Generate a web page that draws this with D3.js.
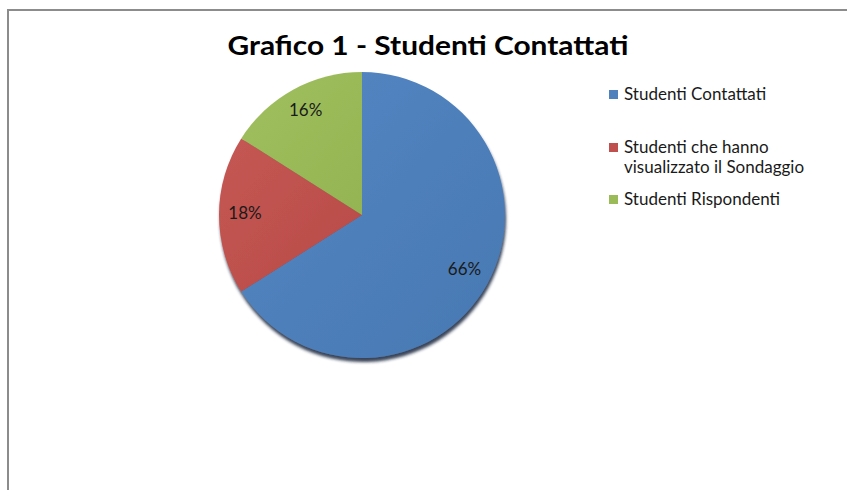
<!DOCTYPE html>
<html>
<head>
<meta charset="utf-8">
<script src="https://cdn.jsdelivr.net/npm/d3@7"></script>
<style>
    body { margin: 0; background: #fff; }
    svg { display: block; }
</style>
</head>
<body>
<div class="pie-chart"></div>
<script>
// chart data
const categories = ["Studenti Contattati", "Studenti che hanno visualizzato il Sondaggio", "Studenti Rispondenti"];
const legendLines = [["Studenti Contattati"], ["Studenti che hanno", "visualizzato il Sondaggio"], ["Studenti Rispondenti"]];
const values = [66, 18, 16];
const titleText = "Grafico 1 - Studenti Contattati";
const sliceColors = ["#4f81bd", "#c0504d", "#9bbb59"];
const sliceColorsLight = ["#5487c4", "#c55753", "#a0c05f"];
const sliceColorsDark = ["#4878b2", "#b84b48", "#94b453"];

let width = 847, height = 490;

let svg = d3.select(".pie-chart").append("svg")
    .attr("width", width).attr("height", height);

let defs = svg.append("defs");

// subtle office-like shading
sliceColors.forEach(function (c, i) {
    let g = defs.append("linearGradient").attr("id", "grad" + i)
        .attr("x1", "0%").attr("y1", "0%").attr("x2", "100%").attr("y2", "100%");
    g.append("stop").attr("offset", "0%").attr("stop-color", sliceColorsLight[i]);
    g.append("stop").attr("offset", "100%").attr("stop-color", sliceColorsDark[i]);
});

let shadow = defs.append("filter").attr("id", "pieShadow")
    .attr("x", "-10%").attr("y", "-10%").attr("width", "120%").attr("height", "125%");
shadow.append("feDropShadow")
    .attr("dx", 1).attr("dy", 4).attr("stdDeviation", 1.6)
    .attr("flood-color", "#13253d").attr("flood-opacity", 0.85);

// outer frame
svg.append("rect")
    .attr("x", 8).attr("y", 10)
    .attr("width", 860).attr("height", 500)
    .attr("fill", "none")
    .attr("stroke", "#8c8c8c")
    .attr("stroke-width", 2);

// title
svg.append("text")
    .attr("x", 428).attr("y", 55)
    .attr("text-anchor", "middle")
    .attr("font-family", "Lato, 'Open Sans', sans-serif")
    .attr("font-weight", "bold")
    .attr("font-size", "27px")
    .attr("fill", "#000")
    .attr("textLength", 401)
    .attr("lengthAdjust", "spacingAndGlyphs")
    .text(titleText);

// pie
let cx = 362, cy = 215, radius = 143;

let pie = d3.pie().sort(null).value(function (d) { return d; });
let arcs = pie(values);

let arc = d3.arc().innerRadius(0).outerRadius(radius);
let labelArc = d3.arc().innerRadius(117).outerRadius(117);

let gPie = svg.append("g")
    .attr("transform", "translate(" + cx + "," + cy + ")");

gPie.append("g")
    .attr("filter", "url(#pieShadow)")
    .selectAll("path")
    .data(arcs)
    .enter().append("path")
    .attr("d", arc)
    .attr("fill", function (d, i) { return "url(#grad" + i + ")"; });

gPie.selectAll(".pie-label")
    .data(arcs)
    .enter().append("text")
    .attr("class", "pie-label")
    .attr("transform", function (d) {
        let c = labelArc.centroid(d);
        return "translate(" + c[0] + "," + (c[1] + 4) + ")";
    })
    .attr("text-anchor", "middle")
    .attr("font-family", "Lato, 'Open Sans', sans-serif")
    .attr("font-size", "17px")
    .attr("fill", "#1a1a1a")
    .text(function (d) {
        return Math.round(d.value / d3.sum(values) * 100) + "%";
    });

// legend
let legendX = 609;
let legendRows = [100, 153, 205];

let gLegend = svg.append("g").attr("class", "legend");

categories.forEach(function (cat, i) {
    gLegend.append("rect")
        .attr("x", legendX).attr("y", legendRows[i] - 10)
        .attr("width", 9).attr("height", 9)
        .attr("fill", sliceColors[i]);

    let t = gLegend.append("text")
        .attr("x", legendX + 15).attr("y", legendRows[i])
        .attr("font-family", "Lato, 'Open Sans', sans-serif")
        .attr("font-size", "17px")
        .attr("fill", "#1a1a1a");

    legendLines[i].forEach(function (line, j) {
        t.append("tspan")
            .attr("x", legendX + 15)
            .attr("dy", j === 0 ? 0 : 20)
            .text(line);
    });
});
</script>
</body>
</html>
